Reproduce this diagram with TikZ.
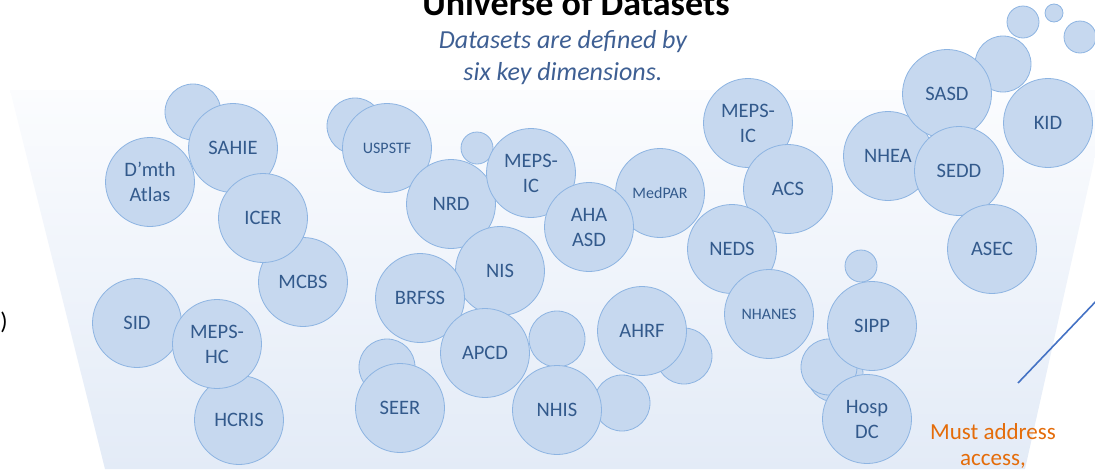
\documentclass[tikz,border=0pt]{standalone}
\usepackage{fontspec}
\setmainfont{Carlito}
\usetikzlibrary{positioning}

\definecolor{dsfill}{HTML}{C6D8EF}
\definecolor{dsline}{HTML}{8DB4E2}
\definecolor{dstext}{HTML}{335A8C}
\definecolor{subblue}{HTML}{3E5F93}
\definecolor{notecol}{HTML}{E46C0A}
\definecolor{rayblue}{HTML}{4472C4}
\definecolor{funtop}{HTML}{FBFCFE}
\definecolor{funbot}{HTML}{E3EBF7}

\begin{document}
\begin{tikzpicture}[x=1pt, y=-1pt,
		ds/.style = {circle, draw=dsline, fill=dsfill, line width=0.8pt, inner sep=0pt,
			minimum size=89pt, text=dstext, align=center, font=\fontsize{20.5}{25}\selectfont},
		dssmall/.style = {ds, font=\fontsize{16}{20}\selectfont},
		blob/.style = {circle, draw=dsline, fill=dsfill, line width=0.8pt, inner sep=0pt, minimum size=#1},
		blob/.default = 56pt]
			\useasboundingbox (0,0) rectangle (1095,469);

			% the funnel
			\shade[top color=funtop, bottom color=funbot] (10,90) -- (1110,90) -- (1025,469) -- (105,469) -- cycle;

			% title and subtitle
			\node (title) [anchor=base, font=\bfseries\fontsize{36}{40}\selectfont] at (576,15) {Universe of Datasets};
			\node (sub) [anchor=base, text=subblue, align=center, font=\itshape\fontsize{26}{32}\selectfont] at (563,80) {Datasets are defined by\\six key dimensions.};
			\node (paren) [anchor=base, font=\fontsize{24}{28}\selectfont] at (4,329) {)};

			% empty bubbles
			\node (b1) [blob] at (193,112) {};
			\node (b2) [blob] at (355,126) {};
			\node (b3) [blob=32pt] at (477,148) {};
			\node (b4) [blob] at (1003,64) {};
			\node (b5) [blob=32pt] at (1023,22) {};
			\node (b6) [blob=18pt] at (1054,13) {};
			\node (b7) [blob=32pt] at (1080,37) {};
			\node (b8) [blob] at (387,367) {};
			\node (b9) [blob] at (557,339) {};
			\node (b10) [blob] at (622,403) {};
			\node (b11) [blob] at (684,356) {};
			\node (b12) [blob=32pt] at (861,266) {};
			\node (b13) [blob] at (835,374) {};
			\node (b14) [blob] at (829,367) {};

			% datasets
			\node (mcbs) [ds] at (303,282) {MCBS};
			\node (sahie) [ds] at (233,148) {SAHIE};
			\node (icer) [ds] at (263,218) {ICER};
			\node (dmth) [ds] at (150,182) {D’mth\\Atlas};
			\node (sid) [ds] at (137,323) {SID};
			\node (hcris) [ds] at (239,420) {HCRIS};
			\node (mepshc) [ds] at (217,344) {MEPS-\\HC};
			\node (uspstf) [dssmall] at (387,148) {USPSTF};
			\node (nrd) [ds] at (451,204) {NRD};
			\node (mepsic) [ds] at (531,173) {MEPS-\\IC};
			\node (medpar) [dssmall] at (660,193) {MedPAR};
			\node (aha) [ds] at (589,227) {AHA\\ASD};
			\node (nis) [ds] at (500,271) {NIS};
			\node (brfss) [ds] at (420,298) {BRFSS};
			\node (apcd) [ds] at (485,353) {APCD};
			\node (seer) [ds] at (400,408) {SEER};
			\node (nhis) [ds] at (557,410) {NHIS};
			\node (ahrf) [ds] at (642,331) {AHRF};
			\node (mepsic2) [ds] at (748,123) {MEPS-\\IC};
			\node (acs) [ds] at (788,189) {ACS};
			\node (neds) [ds] at (732,249) {NEDS};
			\node (nhanes) [dssmall] at (769,314) {NHANES};
			\node (nhea) [ds] at (888,156) {NHEA};
			\node (sasd) [ds] at (947,94) {SASD};
			\node (sedd) [ds] at (959,171) {SEDD};
			\node (kid) [ds] at (1048,123) {KID};
			\node (asec) [ds] at (992,249) {ASEC};
			\node (sipp) [ds] at (872,326) {SIPP};
			\node (hosp) [ds] at (867,419) {Hosp\\DC};

			% note at the bottom right
			\node (note) [anchor=base, text=notecol, align=center, font=\fontsize{23}{26}\selectfont] at (993,465) {Must address\\access,};
			\coordinate (r1) at (1018,383);
			\coordinate (r2) at (1100,297);
			\draw[rayblue, line width=1.6pt] (r1) -- (r2);

		\end{tikzpicture}
\end{document}
